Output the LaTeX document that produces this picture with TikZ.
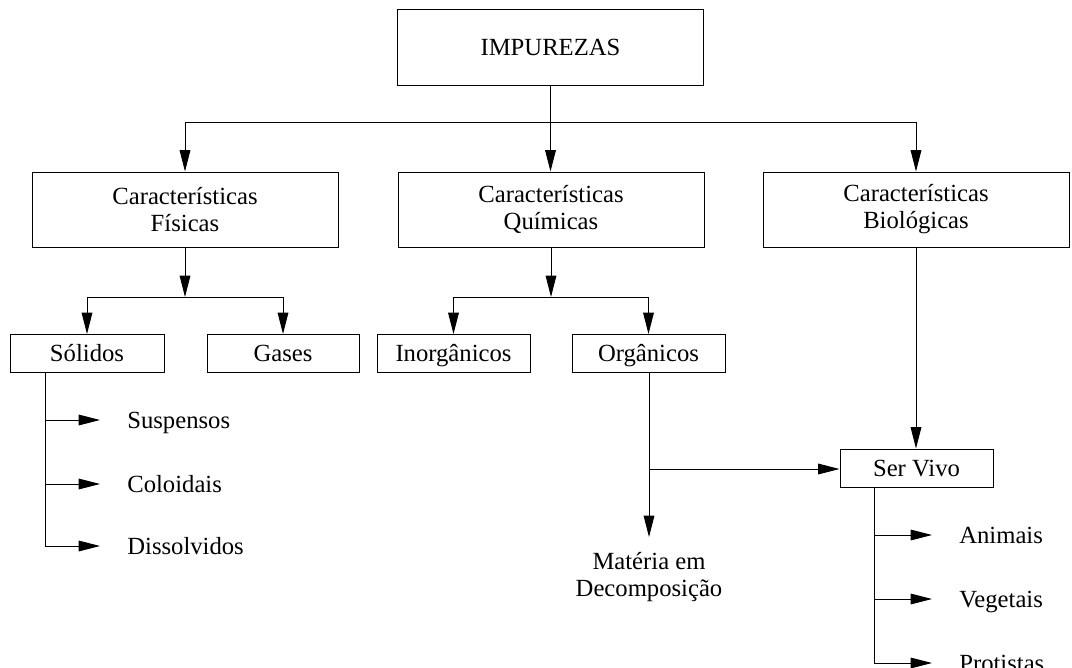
\documentclass[tikz,border=0pt]{standalone}
\usepackage{fontspec}
\setmainfont{Liberation Serif}
\usetikzlibrary{arrows.meta}
\tikzset{
  box/.style={draw, line width=0.75pt, inner sep=0pt, align=center,
    font=\fontsize{18.5}{20.3}\selectfont},
  sbox/.style={box, minimum height=28.5pt, text height=12.5pt, text depth=0pt},
  lbl/.style={inner sep=0pt, anchor=west, outer xsep=20.5pt, text height=12.2pt, text depth=0pt,
    font=\fontsize{18.5}{20.3}\selectfont},
  conn/.style={line width=0.75pt},
  arr/.style={line width=0.75pt, -{Triangle[length=16pt,width=8pt]}},
}
\begin{document}
\begin{tikzpicture}[x=0.75pt,y=-0.75pt]
\useasboundingbox (0,0) rectangle (1072,668);
% boxes
\node[box, minimum width=230pt, minimum height=57pt, text height=12.5pt, text depth=0pt] (imp) at (550.5,47) {IMPUREZAS};
\node[box, minimum width=229.5pt, minimum height=56.25pt] (fis) at (185,209.5) {Características\\Físicas};
\node[box, minimum width=229.5pt, minimum height=56.25pt] (qui) at (551,209.5) {Características\\Químicas};
\node[box, minimum width=229.5pt, minimum height=56.25pt] (bio) at (916,209.5) {Características\\Biológicas};
\node[sbox, minimum width=115.5pt] (sol) at (87,353.5) {Sólidos};
\node[sbox, minimum width=114pt] (gas) at (283,353.5) {Gases};
\node[sbox, minimum width=114.75pt] (ino) at (453.5,353.5) {Inorgânicos};
\node[sbox, minimum width=114.75pt] (org) at (648.5,353.5) {Orgânicos};
\node[sbox, minimum width=114.75pt] (ser) at (916.5,468) {Ser Vivo};
% labels
\node[lbl] (sus) at (100,420) {Suspensos};
\node[lbl] (col) at (100,484) {Coloidais};
\node[lbl] (dis) at (100,546) {Dissolvidos};
\node[lbl] (ani) at (932,535) {Animais};
\node[lbl] (veg) at (932,599) {Vegetais};
\node[lbl] (pro) at (932,663) {Protistas};
\node[inner xsep=0pt, inner ysep=11pt, anchor=north, align=center,
  font=\fontsize{18.5}{20.3}\selectfont] (mat) at (649,537) {Matéria em\\Decomposição};
% junctions
\coordinate (j1) at (550.5,122);
\coordinate (j2) at (185,297);
\coordinate (j3) at (551,297);
\coordinate (j4) at (649,469);
\coordinate (s1) at (45,420);
\coordinate (s2) at (45,484);
\coordinate (s3) at (45,546);
\coordinate (v1) at (874,535);
\coordinate (v2) at (874,599);
\coordinate (v3) at (874,663);
% connectors level 1
\draw[conn] (imp.south) -- (j1);
\draw[arr] (j1) -| (fis.north);
\draw[arr] (j1) -| (bio.north);
\draw[arr] (j1) -- (j1 |- qui.north);
% physical
\draw[arr] (fis.south) -- (j2);
\draw[arr] (j2) -| (sol.north);
\draw[arr] (j2) -| (gas.north);
% chemical
\draw[arr] (qui.south) -- (j3);
\draw[arr] (j3) -| (ino.north);
\draw[arr] (j3) -| (org.north);
% solids
\draw[conn] (sol.south -| s1) -- (s3);
\draw[arr] (s1) -- (sus.west);
\draw[arr] (s2) -- (col.west);
\draw[arr] (s3) -- (dis.west);
% organics
\draw[arr] (org.south -| j4) -- (mat.north);
\draw[arr] (j4) -- (j4 -| ser.west);
% biological
\draw[arr] (bio.south) -- (ser.north -| bio.south);
% living
\draw[conn] (ser.south -| v1) -- (v3);
\draw[arr] (v1) -- (ani.west);
\draw[arr] (v2) -- (veg.west);
\draw[arr] (v3) -- (pro.west);
\end{tikzpicture}
\end{document}
